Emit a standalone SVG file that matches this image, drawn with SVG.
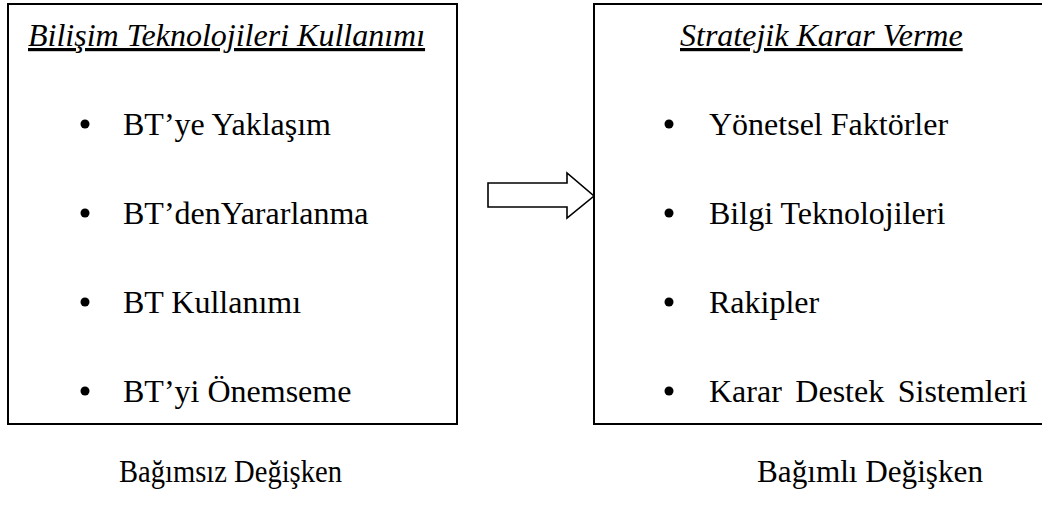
<svg xmlns="http://www.w3.org/2000/svg" width="1042" height="506" viewBox="0 0 1042 506">
<style>
.box{fill:#fff;stroke:#000;stroke-width:2}
.t{font-size:32px;fill:#000}
.title{font-style:italic;text-decoration:underline}
.dot{fill:#000}
.arrow{fill:#fff;stroke:#000;stroke-width:1.6;stroke-linejoin:miter}
</style>
<rect width="1042" height="506" fill="#fff"/>
<g font-family="'Liberation Serif', Tinos, 'Times New Roman', 'DejaVu Serif', serif">
<g id="node-bt">
<rect class="box" x="8" y="4" width="449" height="420"/>
<text class="t title" x="28" y="46">Bilişim Teknolojileri Kullanımı</text>
<circle class="dot" cx="85" cy="124" r="4.5"/>
<text class="t" x="123" y="135">BT’ye Yaklaşım</text>
<circle class="dot" cx="85" cy="213" r="4.5"/>
<text class="t" x="123" y="224">BT’denYararlanma</text>
<circle class="dot" cx="85" cy="302" r="4.5"/>
<text class="t" x="123" y="313">BT Kullanımı</text>
<circle class="dot" cx="85" cy="391" r="4.5"/>
<text class="t" x="123" y="402">BT’yi Önemseme</text>
</g>
<g id="node-skv">
<rect class="box" x="594" y="4" width="460" height="420"/>
<text class="t title" x="680" y="46">Stratejik Karar Verme</text>
<circle class="dot" cx="669" cy="124" r="4.5"/>
<text class="t" x="709" y="135">Yönetsel Faktörler</text>
<circle class="dot" cx="669" cy="213" r="4.5"/>
<text class="t" x="709" y="224">Bilgi Teknolojileri</text>
<circle class="dot" cx="669" cy="302" r="4.5"/>
<text class="t" x="709" y="313">Rakipler</text>
<circle class="dot" cx="669" cy="391" r="4.5"/>
<text class="t" x="709" y="402" word-spacing="5.5">Karar Destek Sistemleri</text>
</g>
<g id="label-bagimsiz">
<text class="t" x="119" y="482" textLength="223" lengthAdjust="spacingAndGlyphs">Bağımsız Değişken</text>
</g>
<g id="label-bagimli">
<text class="t" x="757" y="482" textLength="226" lengthAdjust="spacingAndGlyphs">Bağımlı Değişken</text>
</g>
</g>
<g id="connectors">
<polygon class="arrow" points="488,183 567,183 567,173 594,196 567,218 567,207 488,207"/>
</g>
</svg>
